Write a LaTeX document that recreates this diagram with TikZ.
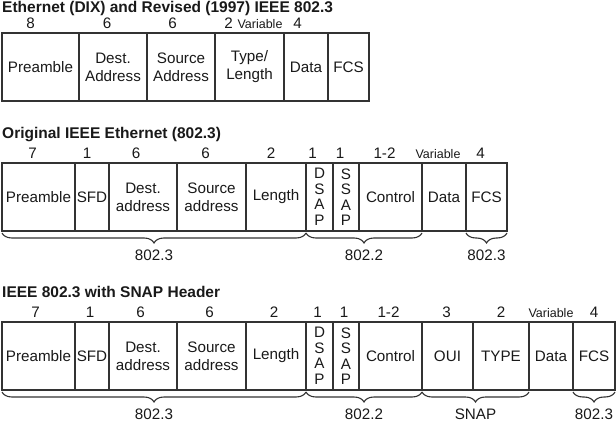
\documentclass[tikz,border=0pt]{standalone}
\usepackage{fontspec}
\setmainfont{Liberation Sans}
\usetikzlibrary{positioning,decorations.pathreplacing}

\newcommand{\fieldfont}{\fontsize{15.2}{18}\selectfont}
\newcommand{\varfont}{\fontsize{12.5}{14}\selectfont}

\begin{document}
\begin{tikzpicture}[
  x=1pt, y=1pt,
  field/.style={rectangle, draw=black!80, line width=1.6pt, minimum height=68pt, inner sep=0pt, outer sep=0pt, align=center, text=black!90, font=\fieldfont},
  vert/.style={field, font=\fontsize{15.2}{15.5}\selectfont},
  num/.style={inner sep=0pt, text depth=0pt, text=black!90, font=\fieldfont},
  hdr/.style={anchor=base west, inner sep=0pt, text=black!90, font=\bfseries\fontsize{15.5}{18}\selectfont},
  brc/.style={decorate, decoration={brace, mirror, amplitude=10pt}, draw=black!80, line width=1.1pt},
  lbl/.style={inner sep=0pt, text depth=0pt, text=black!90, font=\fieldfont},
]
  \useasboundingbox (0,0) rectangle (616,421);

  % Ethernet (DIX)
  \node[hdr] (t1) at (2,408.5) {Ethernet (DIX) and Revised (1997) IEEE 802.3};
  \node[field, minimum width=77pt, anchor=north west] (pre1) at (2,388) {Preamble};
  \node[field, minimum width=68pt, right=0pt of pre1] (dst1) {Dest.\\Address};
  \node[field, minimum width=68pt, right=0pt of dst1] (src1) {Source\\Address};
  \node[field, minimum width=69pt, right=0pt of src1] (typ1) {Type/\\Length};
  \node[field, minimum width=44pt, right=0pt of typ1] (dat1) {Data};
  \node[field, minimum width=41pt, right=0pt of dat1] (fcs1) {FCS};

  \node[num, above=4.5pt of pre1, xshift=-10pt] (n-pre1) {8};
  \node[num, above=4.5pt of dst1, xshift=-6pt] (n-dst1) {6};
  \node[num, above=4.5pt of src1, xshift=-8.5pt] (n-src1) {6};
  \node[num, above=4.5pt of typ1, xshift=-21pt] (n-typ1) {2};
  \node[num, font=\varfont, above=4.5pt of dat1, xshift=-46pt] (n-dat1) {Variable};
  \node[num, above=4.5pt of fcs1, xshift=-51pt] (n-fcs1) {4};

  % Original IEEE 802.3
  \node[hdr] (t2) at (2,282) {Original IEEE Ethernet (802.3)};
  \node[field, minimum width=73pt, anchor=north west] (pre2) at (2,258) {Preamble};
  \node[field, minimum width=34pt, right=0pt of pre2] (sfd2) {SFD};
  \node[field, minimum width=68pt, right=0pt of sfd2] (dst2) {Dest.\\address};
  \node[field, minimum width=69pt, right=0pt of dst2] (src2) {Source\\address};
  \node[field, minimum width=60pt, right=0pt of src2] (len2) {Length};
  \node[vert, minimum width=27pt, right=0pt of len2] (dsap2) {D\\S\\A\\P};
  \node[vert, minimum width=26pt, right=0pt of dsap2] (ssap2) {S\\S\\A\\P};
  \node[field, minimum width=63pt, right=0pt of ssap2] (ctl2) {Control};
  \node[field, minimum width=44pt, right=0pt of ctl2] (dat2) {Data};
  \node[field, minimum width=41pt, right=0pt of dat2] (fcs2) {FCS};

  \node[num, above=4.5pt of pre2, xshift=-6pt] (n-pre2) {7};
  \node[num, above=4.5pt of sfd2, xshift=-5pt] (n-sfd2) {1};
  \node[num, above=4.5pt of dst2, xshift=-7pt] (n-dst2) {6};
  \node[num, above=4.5pt of src2, xshift=-6pt] (n-src2) {6};
  \node[num, above=4.5pt of len2, xshift=-5pt] (n-len2) {2};
  \node[num, above=4.5pt of dsap2, xshift=-7pt] (n-dsap2) {1};
  \node[num, above=4.5pt of ssap2, xshift=-6pt] (n-ssap2) {1};
  \node[num, above=4.5pt of ctl2, xshift=-6pt] (n-ctl2) {1-2};
  \node[num, font=\varfont, above=4.5pt of dat2, xshift=-6pt] (n-dat2) {Variable};
  \node[num, above=4.5pt of fcs2, xshift=-6pt] (n-fcs2) {4};

  \draw[brc] ([yshift=-2pt]pre2.south west) -- ([yshift=-2pt]len2.south east)
    node[lbl, midway, below=16pt] (b21) {802.3};
  \draw[brc] ([yshift=-2pt]dsap2.south west) -- ([yshift=-2pt]ctl2.south east)
    node[lbl, midway, below=16pt] (b22) {802.2};
  \draw[brc] ([yshift=-2pt]fcs2.south west) -- ([yshift=-2pt]fcs2.south east)
    node[lbl, midway, below=16pt] (b23) {802.3};

  % 802.3 with SNAP
  \node[hdr] (t3) at (2,124) {IEEE 802.3 with SNAP Header};
  \node[field, minimum width=73pt, anchor=north west] (pre3) at (2,99) {Preamble};
  \node[field, minimum width=34pt, right=0pt of pre3] (sfd3) {SFD};
  \node[field, minimum width=68pt, right=0pt of sfd3] (dst3) {Dest.\\address};
  \node[field, minimum width=69pt, right=0pt of dst3] (src3) {Source\\address};
  \node[field, minimum width=60pt, right=0pt of src3] (len3) {Length};
  \node[vert, minimum width=27pt, right=0pt of len3] (dsap3) {D\\S\\A\\P};
  \node[vert, minimum width=26pt, right=0pt of dsap3] (ssap3) {S\\S\\A\\P};
  \node[field, minimum width=63pt, right=0pt of ssap3] (ctl3) {Control};
  \node[field, minimum width=51pt, right=0pt of ctl3] (oui3) {OUI};
  \node[field, minimum width=56pt, right=0pt of oui3] (typ3) {TYPE};
  \node[field, minimum width=44pt, right=0pt of typ3] (dat3) {Data};
  \node[field, minimum width=42pt, right=0pt of dat3] (fcs3) {FCS};

  \node[num, above=4.5pt of pre3, xshift=-3pt] (n-pre3) {7};
  \node[num, above=4.5pt of sfd3, xshift=-2pt] (n-sfd3) {1};
  \node[num, above=4.5pt of dst3, xshift=-2.5pt] (n-dst3) {6};
  \node[num, above=4.5pt of src3, xshift=-2pt] (n-src3) {6};
  \node[num, above=4.5pt of len3, xshift=-2pt] (n-len3) {2};
  \node[num, above=4.5pt of dsap3, xshift=-2pt] (n-dsap3) {1};
  \node[num, above=4.5pt of ssap3, xshift=-2pt] (n-ssap3) {1};
  \node[num, above=4.5pt of ctl3, xshift=-2pt] (n-ctl3) {1-2};
  \node[num, above=4.5pt of oui3, xshift=-1pt] (n-oui3) {3};
  \node[num, above=4.5pt of typ3] (n-typ3) {2};
  \node[num, font=\varfont, above=4.5pt of dat3] (n-dat3) {Variable};
  \node[num, above=4.5pt of fcs3] (n-fcs3) {4};

  \draw[brc] ([yshift=-2pt]pre3.south west) -- ([yshift=-2pt]len3.south east)
    node[lbl, midway, below=16pt] (b31) {802.3};
  \draw[brc] ([yshift=-2pt]dsap3.south west) -- ([yshift=-2pt]ctl3.south east)
    node[lbl, midway, below=16pt] (b32) {802.2};
  \draw[brc] ([yshift=-2pt]oui3.south west) -- ([yshift=-2pt]typ3.south east)
    node[lbl, midway, below=16pt] (b33) {SNAP};
  \draw[brc] ([yshift=-2pt]fcs3.south west) -- ([yshift=-2pt]fcs3.south east)
    node[lbl, midway, below=16pt] (b34) {802.3};
\end{tikzpicture}
\end{document}
